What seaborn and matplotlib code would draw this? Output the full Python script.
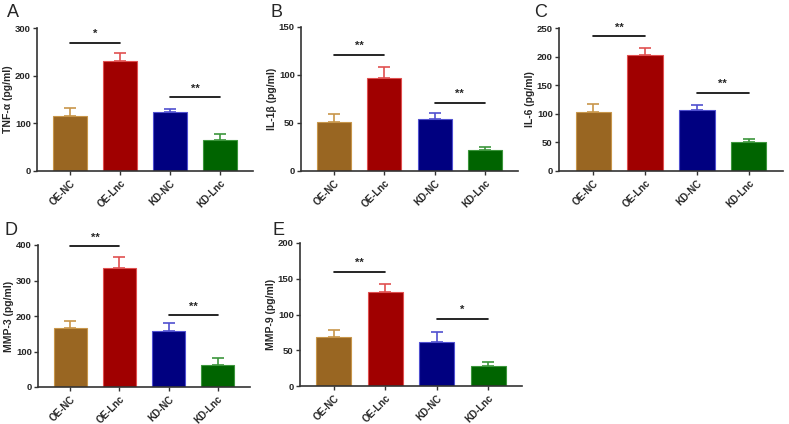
import numpy as np
import matplotlib
matplotlib.use("Agg")
import matplotlib.pyplot as plt
import pandas as pd
import seaborn as sns

groups = ["OE-NC", "OE-Lnc", "KD-NC", "KD-Lnc"]
bar_colors = ["#996622", "#a00000", "#000080", "#006400"]
edge_colors = ["#c8964a", "#e05050", "#5050d0", "#3c963c"]

panels = ["A", "B", "C", "D", "E"]
ylabels = ["TNF-α (pg/ml)", "IL-1β (pg/ml)", "IL-6 (pg/ml)", "MMP-3 (pg/ml)", "MMP-9 (pg/ml)"]
ymax = [300, 150, 250, 400, 200]
ystep = [100, 50, 50, 100, 50]

means = [
    [116, 230, 124, 66],
    [51, 97, 54, 22],
    [103, 202, 106, 51],
    [165, 335, 158, 62],
    [69, 132, 61, 28],
]
sems = [
    [17, 17, 6, 11],
    [8, 11, 6, 3],
    [14, 13, 10, 5],
    [22, 31, 21, 20],
    [10, 11, 14, 5],
]
# significance bars: heights and labels for OE pair and KD pair
sig_oe = [269, 121, 236, 396, 160]
sig_oe_lab = ["*", "**", "**", "**", "**"]
sig_kd = [155, 71, 137, 203, 94]
sig_kd_lab = ["**", "**", "**", "**", "*"]

# axes boxes in pixels: left, bottom, right, top
boxes = [
    (37, 171, 253, 28),
    (301, 171, 518, 27),
    (559, 171, 783, 28),
    (38, 387, 250, 245),
    (300, 386, 522, 243),
]
# panel letter positions (top-left, pixels)
letter_pos = [(7, 4), (270, 4), (534, 4), (5, 222), (272, 222)]

sns.set_style("ticks")
plt.rcParams["font.family"] = ["Liberation Sans", "DejaVu Sans"]

W, H = 789, 424
fig = plt.figure(figsize=(W / 100, H / 100), dpi=100)

for i in range(5):
    l, b, r, t = boxes[i]
    ax = fig.add_axes([l / W, 1 - b / H, (r - l) / W, (b - t) / H])
    df = pd.DataFrame({"group": groups, "value": means[i]})
    sns.barplot(data=df, x="group", y="value", hue="group", palette=bar_colors,
                legend=False, width=0.68, ax=ax, errorbar=None, saturation=1)
    for p, ec in zip(ax.patches, edge_colors):
        p.set_edgecolor(ec)
        p.set_linewidth(0.8)
    for j in range(4):
        ax.errorbar(j, means[i][j], yerr=[[0], [sems[i][j]]], fmt="none",
                    ecolor=edge_colors[j], elinewidth=1.2, capsize=4, capthick=1.2)
    rng = ymax[i]
    ax.plot([0, 1], [sig_oe[i], sig_oe[i]], color="black", lw=1.2, clip_on=False)
    ax.text(0.5, sig_oe[i] + rng * 0.025, sig_oe_lab[i], ha="center", va="bottom",
            fontsize=8, fontweight="bold")
    ax.plot([2, 3], [sig_kd[i], sig_kd[i]], color="black", lw=1.2)
    ax.text(2.5, sig_kd[i] + rng * 0.025, sig_kd_lab[i], ha="center", va="bottom",
            fontsize=8, fontweight="bold")

    ax.set_xlim(-0.66, 3.66)
    ax.set_ylim(0, ymax[i])
    ax.set_yticks(np.arange(0, ymax[i] + 1, ystep[i]))
    ax.set_xlabel("")
    ax.set_ylabel(ylabels[i], fontsize=7.5, fontweight="bold", labelpad=1)
    ax.tick_params(axis="x", labelsize=7, rotation=45, length=3, width=1, color="#333333", pad=2)
    ax.tick_params(axis="y", labelsize=6.8, length=3, width=1, color="#333333", pad=1.5)
    for lab in ax.get_xticklabels():
        lab.set_fontweight("bold")
        lab.set_ha("right")
        lab.set_rotation_mode("anchor")
    for lab in ax.get_yticklabels():
        lab.set_fontweight("bold")
    sns.despine(ax=ax)
    for s in ["left", "bottom"]:
        ax.spines[s].set_color("#333333")
        ax.spines[s].set_linewidth(1.2)
    lx, ly = letter_pos[i]
    fig.text(lx / W, 1 - ly / H, panels[i], fontsize=13, ha="left", va="top")

fig.savefig("out.png", dpi=100)
